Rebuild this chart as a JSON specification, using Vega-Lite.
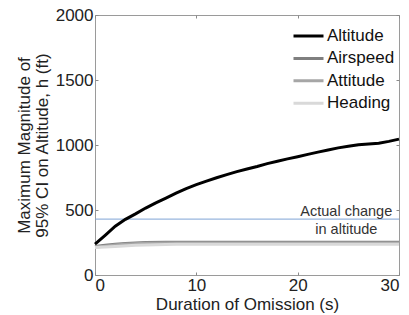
{
  "$schema": "https://vega.github.io/schema/vega-lite/v6.json",
  "width": 304,
  "height": 260,
  "autosize": "none",
  "padding": {"left": 95, "top": 15, "right": 10, "bottom": 40},
  "background": "white",
  "config": {
    "view": {"stroke": "#9a9a9a", "strokeWidth": 1},
    "font": "Liberation Sans",
    "axis": {
      "domain": false,
      "grid": false,
      "tickColor": "#8a8a8a",
      "tickSize": -3,
      "labelFont": "Liberation Sans",
      "labelFontSize": 17,
      "labelColor": "#222",
      "titleFont": "Liberation Sans",
      "titleFontSize": 17,
      "titleFontWeight": "normal",
      "titleColor": "#222"
    },
    "legend": {
      "labelFont": "Liberation Sans",
      "labelFontSize": 17,
      "labelColor": "#111"
    }
  },
  "datasets": {
    "series": [
      {"t": 0, "v": 238, "s": "Altitude"},
      {"t": 1, "v": 305, "s": "Altitude"},
      {"t": 2, "v": 375, "s": "Altitude"},
      {"t": 3, "v": 428, "s": "Altitude"},
      {"t": 4, "v": 470, "s": "Altitude"},
      {"t": 5, "v": 515, "s": "Altitude"},
      {"t": 6, "v": 555, "s": "Altitude"},
      {"t": 7, "v": 592, "s": "Altitude"},
      {"t": 8, "v": 630, "s": "Altitude"},
      {"t": 9, "v": 665, "s": "Altitude"},
      {"t": 10, "v": 695, "s": "Altitude"},
      {"t": 11, "v": 722, "s": "Altitude"},
      {"t": 12, "v": 748, "s": "Altitude"},
      {"t": 13, "v": 772, "s": "Altitude"},
      {"t": 14, "v": 795, "s": "Altitude"},
      {"t": 15, "v": 815, "s": "Altitude"},
      {"t": 16, "v": 835, "s": "Altitude"},
      {"t": 17, "v": 857, "s": "Altitude"},
      {"t": 18, "v": 875, "s": "Altitude"},
      {"t": 19, "v": 893, "s": "Altitude"},
      {"t": 20, "v": 910, "s": "Altitude"},
      {"t": 21, "v": 928, "s": "Altitude"},
      {"t": 22, "v": 945, "s": "Altitude"},
      {"t": 23, "v": 962, "s": "Altitude"},
      {"t": 24, "v": 978, "s": "Altitude"},
      {"t": 25, "v": 990, "s": "Altitude"},
      {"t": 26, "v": 1002, "s": "Altitude"},
      {"t": 27, "v": 1008, "s": "Altitude"},
      {"t": 28, "v": 1013, "s": "Altitude"},
      {"t": 29, "v": 1028, "s": "Altitude"},
      {"t": 30, "v": 1045, "s": "Altitude"},
      {"t": 0, "v": 220, "s": "Airspeed"},
      {"t": 1, "v": 228, "s": "Airspeed"},
      {"t": 2, "v": 236, "s": "Airspeed"},
      {"t": 3, "v": 242, "s": "Airspeed"},
      {"t": 4, "v": 247, "s": "Airspeed"},
      {"t": 5, "v": 250, "s": "Airspeed"},
      {"t": 7, "v": 252, "s": "Airspeed"},
      {"t": 15, "v": 252, "s": "Airspeed"},
      {"t": 30, "v": 252, "s": "Airspeed"},
      {"t": 0, "v": 215, "s": "Attitude"},
      {"t": 1, "v": 222, "s": "Attitude"},
      {"t": 2, "v": 230, "s": "Attitude"},
      {"t": 3, "v": 236, "s": "Attitude"},
      {"t": 4, "v": 241, "s": "Attitude"},
      {"t": 5, "v": 244, "s": "Attitude"},
      {"t": 7, "v": 246, "s": "Attitude"},
      {"t": 15, "v": 246, "s": "Attitude"},
      {"t": 30, "v": 246, "s": "Attitude"},
      {"t": 0, "v": 212, "s": "Heading"},
      {"t": 2, "v": 220, "s": "Heading"},
      {"t": 4, "v": 228, "s": "Heading"},
      {"t": 6, "v": 232, "s": "Heading"},
      {"t": 8, "v": 236, "s": "Heading"},
      {"t": 15, "v": 236, "s": "Heading"},
      {"t": 30, "v": 236, "s": "Heading"}
    ],
    "actual": [{"h": 430}],
    "notes": [
      {"t": 24.8, "v": 487, "label": "Actual change"},
      {"t": 24.8, "v": 346, "label": "in altitude"}
    ]
  },
  "resolve": {"axis": {"x": "independent", "y": "independent"}},
  "layer": [
    {
      "data": {"name": "actual"},
      "mark": {"type": "rule", "color": "#7fa3d6", "strokeWidth": 1},
      "encoding": {
        "y": {
          "field": "h", "type": "quantitative",
          "scale": {"domain": [0, 2000], "nice": false},
          "axis": {
            "orient": "left",
            "values": [0, 500, 1000, 1500, 2000],
            "format": "d",
            "labelPadding": 5,
            "title": ["Maximum Magnitude of", "95% CI on Altitude, h (ft)"],
            "titleLineHeight": 18,
            "titlePadding": 4
          }
        }
      }
    },
    {
      "data": {"name": "notes"},
      "mark": {"type": "text", "fontSize": 14.5, "color": "#333", "align": "center", "baseline": "middle", "font": "Liberation Sans"},
      "encoding": {
        "x": {
          "field": "t", "type": "quantitative",
          "scale": {"domain": [0, 30], "nice": false},
          "axis": {
            "orient": "bottom",
            "values": [0, 10, 20, 30],
            "format": "d",
            "labelPadding": 5,
            "title": "Duration of Omission (s)",
            "titlePadding": 3
          }
        },
        "y": {
          "field": "v", "type": "quantitative",
          "axis": {"orient": "right", "values": [0, 500, 1000, 1500, 2000], "labels": false, "title": null}
        },
        "text": {"field": "label"}
      }
    },
    {
      "data": {"name": "series"},
      "mark": {"type": "line", "strokeWidth": 3},
      "encoding": {
        "x": {
          "field": "t", "type": "quantitative",
          "axis": {"orient": "top", "values": [0, 10, 20, 30], "labels": false, "title": null}
        },
        "y": {"field": "v", "type": "quantitative", "axis": null},
        "color": {
          "field": "s", "type": "nominal",
          "scale": {
            "domain": ["Altitude", "Airspeed", "Attitude", "Heading"],
            "range": ["#000000", "#7f7f7f", "#a6a6a6", "#d9d9d9"]
          },
          "legend": {
            "title": null,
            "orient": "none",
            "legendX": 197,
            "legendY": 13,
            "padding": 0,
            "symbolType": "stroke",
            "symbolSize": 900,
            "symbolStrokeWidth": 3,
            "clipHeight": 16,
            "rowPadding": 5.4,
            "labelOffset": 2
          }
        },
        "order": {"field": "s"}
      }
    }
  ]
}
